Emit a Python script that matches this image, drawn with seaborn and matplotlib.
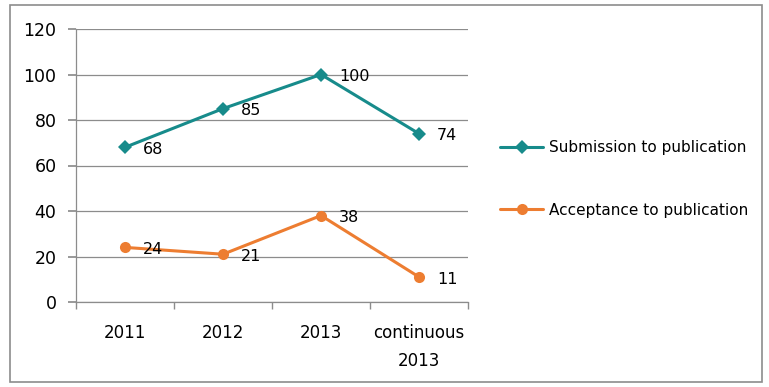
import numpy as np
import pandas as pd
import matplotlib
matplotlib.use('Agg')
import matplotlib.pyplot as plt
from matplotlib.patches import Rectangle
from matplotlib.lines import Line2D
import seaborn as sns

categories = ['2011', '2012', '2013', 'continuous\n2013']
submission = [68, 85, 100, 74]
acceptance = [24, 21, 38, 11]
series_names = ['Submission to publication', 'Acceptance to publication']
colors = ['#178b8b', '#ed7d31']
markers = ['D', 'o']
marker_sizes = [7, 8]

sns.set_theme(style='white')
plt.rcParams['font.family'] = ['DejaVu Sans']

df = pd.DataFrame({
    'pos': list(range(len(categories))) * 2,
    'value': submission + acceptance,
    'series': [series_names[0]] * len(categories) + [series_names[1]] * len(categories),
})

fig = plt.figure(figsize=(7.69, 3.87), dpi=100)
ax = fig.add_axes([76 / 769, 1 - 302 / 387, (468 - 76) / 769, (302 - 29) / 387])

# outer frame of the chart area
fig.patches.append(Rectangle((10 / 769, 5 / 387), 752 / 769, 377 / 387,
                             transform=fig.transFigure, fill=False,
                             edgecolor='#8c8c8c', linewidth=1.2))

for name, col, mk, ms in zip(series_names, colors, markers, marker_sizes):
    sub = df[df['series'] == name]
    sns.lineplot(data=sub, x='pos', y='value', color=col, marker=mk, linewidth=2.2,
                 markersize=ms, markeredgewidth=0, ax=ax, legend=False)

# data labels to the right of each point
for vals in (submission, acceptance):
    for i, v in enumerate(vals):
        ax.annotate(str(v), (i, v), xytext=(13, -1.5), textcoords='offset points',
                    ha='left', va='center', fontsize=11.5, color='black')

ax.set_xlim(-0.5, len(categories) - 0.5)
ax.set_ylim(0, 120)
ax.set_yticks(range(0, 121, 20))
ax.set_xticks(range(len(categories)))
ax.set_xticklabels(categories, fontsize=12, linespacing=1.75)
ax.tick_params(axis='y', labelsize=12.5, length=6, color='#8c8c8c', left=True, pad=8,
               labelcolor='black')
ax.tick_params(axis='x', which='major', length=0, pad=15.5, labelcolor='black')
ax.set_xticks(np.arange(-0.5, len(categories), 1.0), minor=True)
ax.tick_params(axis='x', which='minor', length=5, color='#8c8c8c', bottom=True)
ax.set_xlabel('')
ax.set_ylabel('')
ax.grid(axis='y', color='#8c8c8c', linewidth=0.9)
ax.set_axisbelow(True)
for side in ('top', 'right'):
    ax.spines[side].set_visible(False)
for side in ('left', 'bottom'):
    ax.spines[side].set_color('#8c8c8c')
    ax.spines[side].set_linewidth(0.9)

handles = [Line2D([], [], color=c, marker=m, linewidth=2.2, markersize=ms, markeredgewidth=0)
           for c, m, ms in zip(colors, markers, marker_sizes)]
fig.legend(handles, series_names, loc='upper left', bbox_to_anchor=(494 / 769, 1 - 134 / 387),
           frameon=False, fontsize=11, handlelength=2.8, handletextpad=0.4,
           labelspacing=3.12, borderaxespad=0, labelcolor='black')

fig.savefig('out.png', dpi=100)
